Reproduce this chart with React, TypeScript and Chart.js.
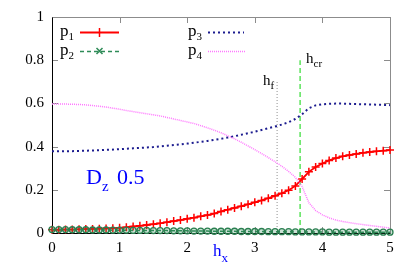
import React, { useEffect, useRef } from "react";
import { Chart, registerables } from "chart.js";

Chart.register(...registerables);

const hx = [
  0, 0.1, 0.2, 0.3, 0.4, 0.5, 0.6, 0.7, 0.8, 0.9,
  1.0, 1.1, 1.2, 1.3, 1.4, 1.5, 1.6, 1.7, 1.8, 1.9,
  2.0, 2.1, 2.2, 2.3, 2.4, 2.5, 2.6, 2.7, 2.8, 2.9,
  3.0, 3.1, 3.2, 3.3, 3.4, 3.5, 3.6, 3.7, 3.8, 3.9,
  4.0, 4.1, 4.2, 4.3, 4.4, 4.5, 4.6, 4.7, 4.8, 4.9, 5.0,
];

const p1 = [
  0.015, 0.015, 0.016, 0.016, 0.017, 0.018, 0.019, 0.020, 0.021, 0.022,
  0.024, 0.027, 0.030, 0.033, 0.037, 0.041, 0.045, 0.050, 0.055, 0.060,
  0.066, 0.071, 0.077, 0.083, 0.090, 0.100, 0.108, 0.116, 0.124, 0.133,
  0.142, 0.151, 0.161, 0.172, 0.184, 0.198, 0.218, 0.250, 0.283, 0.306,
  0.322, 0.336, 0.347, 0.355, 0.361, 0.366, 0.371, 0.375, 0.378, 0.381, 0.384,
];

const p2 = [
  0.016, 0.016, 0.016, 0.015, 0.015, 0.015, 0.014, 0.014, 0.014, 0.013,
  0.013, 0.013, 0.012, 0.012, 0.012, 0.011, 0.011, 0.011, 0.010, 0.010,
  0.010, 0.009, 0.009, 0.009, 0.008, 0.008, 0.008, 0.008, 0.007, 0.007,
  0.007, 0.007, 0.006, 0.006, 0.006, 0.006, 0.005, 0.005, 0.005, 0.005,
  0.005, 0.004, 0.004, 0.004, 0.004, 0.004, 0.004, 0.004, 0.004, 0.004, 0.004,
];

const p3 = [
  0.378, 0.378, 0.379, 0.379, 0.380, 0.381, 0.382, 0.383, 0.385, 0.386,
  0.388, 0.390, 0.392, 0.394, 0.396, 0.398, 0.401, 0.404, 0.407, 0.410,
  0.414, 0.418, 0.422, 0.426, 0.431, 0.436, 0.442, 0.448, 0.455, 0.462,
  0.469, 0.477, 0.485, 0.493, 0.502, 0.513, 0.528, 0.550, 0.578, 0.591,
  0.596, 0.598, 0.599, 0.599, 0.598, 0.597, 0.596, 0.595, 0.594, 0.593, 0.592,
];

const p4 = [
  0.597, 0.597, 0.597, 0.596, 0.595, 0.593, 0.590, 0.587, 0.583, 0.578,
  0.573, 0.567, 0.562, 0.557, 0.552, 0.547, 0.542, 0.535, 0.528, 0.521,
  0.514, 0.507, 0.497, 0.487, 0.476, 0.464, 0.450, 0.436, 0.420, 0.403,
  0.386, 0.368, 0.349, 0.330, 0.309, 0.285, 0.258, 0.215, 0.140, 0.104,
  0.084, 0.070, 0.060, 0.053, 0.048, 0.043, 0.039, 0.035, 0.031, 0.027, 0.023,
];

// vertical markers: [hx position, top value]
const hfLine = [3.33, 0.70];
const hcrLine = [3.67, 0.80];

const xTicks = [0, 1, 2, 3, 4, 5];
const yTicks = [0, 0.2, 0.4, 0.6, 0.8, 1];

const SERIF = "'Liberation Serif', 'DejaVu Serif', serif";

function drawSub(
  ctx: CanvasRenderingContext2D,
  main: string,
  sub: string,
  x: number,
  y: number,
  size: number,
  subSize: number,
  subDy: number,
  color: string
) {
  ctx.save();
  ctx.fillStyle = color;
  ctx.textAlign = "left";
  ctx.textBaseline = "alphabetic";
  ctx.font = `${size}px ${SERIF}`;
  ctx.fillText(main, x, y);
  const w = ctx.measureText(main).width;
  ctx.font = `${subSize}px ${SERIF}`;
  ctx.fillText(sub, x + w, y + subDy);
  ctx.restore();
}

const framePlugin = {
  id: "frame",
  beforeDatasetsDraw(chart: any) {
    const { ctx, chartArea: a, scales } = chart;
    ctx.save();
    ctx.lineWidth = 1;
    ctx.strokeStyle = "#8c8c8c";
    const tl = 6;
    xTicks.forEach((v) => {
      const px = Math.round(scales.x.getPixelForValue(v)) + 0.5;
      ctx.beginPath();
      ctx.moveTo(px, a.bottom);
      ctx.lineTo(px, a.bottom - tl);
      ctx.moveTo(px, a.top);
      ctx.lineTo(px, a.top + tl);
      ctx.stroke();
    });
    yTicks.forEach((v) => {
      const py = Math.round(scales.y.getPixelForValue(v)) + 0.5;
      ctx.beginPath();
      ctx.moveTo(a.left, py);
      ctx.lineTo(a.left + tl, py);
      ctx.moveTo(a.right, py);
      ctx.lineTo(a.right - tl, py);
      ctx.stroke();
    });
    ctx.strokeStyle = "#8c8c8c";
    ctx.beginPath();
    ctx.moveTo(Math.round(a.left) + 0.5, Math.round(a.top) + 0.5);
    ctx.lineTo(Math.round(a.right) + 0.5, Math.round(a.top) + 0.5);
    ctx.lineTo(Math.round(a.right) + 0.5, Math.round(a.bottom) + 0.5);
    ctx.stroke();
    ctx.strokeStyle = "#000000";
    ctx.beginPath();
    ctx.moveTo(Math.round(a.left) + 0.5, Math.round(a.top) + 0.5);
    ctx.lineTo(Math.round(a.left) + 0.5, Math.round(a.bottom) + 0.5);
    ctx.lineTo(Math.round(a.right) + 0.5, Math.round(a.bottom) + 0.5);
    ctx.stroke();
    ctx.restore();
  },
  afterDraw(chart: any) {
    const { ctx } = chart;
    const legendRows = [
      { label: "p", sub: "1", tx: 60, ty: 36, lx0: 80, lx1: 119, ly: 32, ds: 0 },
      { label: "p", sub: "2", tx: 60, ty: 55, lx0: 80, lx1: 119, ly: 51, ds: 1 },
      { label: "p", sub: "3", tx: 188, ty: 36, lx0: 208, lx1: 244, ly: 32, ds: 2 },
      { label: "p", sub: "4", tx: 188, ty: 55, lx0: 208, lx1: 246, ly: 51, ds: 3 },
    ];
    legendRows.forEach((r) => {
      drawSub(ctx, r.label, r.sub, r.tx, r.ty, 17, 11, 4, "#000");
      const d = chart.data.datasets[r.ds];
      ctx.save();
      ctx.strokeStyle = d.borderColor;
      ctx.lineWidth = d.borderWidth;
      ctx.setLineDash(d.borderDash || []);
      ctx.beginPath();
      ctx.moveTo(r.lx0, r.ly + 0.5);
      ctx.lineTo(r.lx1, r.ly + 0.5);
      ctx.stroke();
      ctx.setLineDash([]);
      const mx = (r.lx0 + r.lx1) / 2;
      if (r.ds === 0) {
        ctx.lineWidth = 1.5;
        ctx.beginPath();
        ctx.moveTo(mx, r.ly - 4);
        ctx.lineTo(mx, r.ly + 5);
        ctx.stroke();
      } else if (r.ds === 1) {
        ctx.lineWidth = 1.5;
        ctx.beginPath();
        ctx.moveTo(mx - 3, r.ly - 3);
        ctx.lineTo(mx + 3, r.ly + 3);
        ctx.moveTo(mx + 3, r.ly - 3);
        ctx.lineTo(mx - 3, r.ly + 3);
        ctx.stroke();
      }
      ctx.restore();
    });
    drawSub(ctx, "h", "f", 263, 85, 15, 11, 4, "#000");
    drawSub(ctx, "h", "cr", 306, 63, 15, 11, 4, "#000");
    drawSub(ctx, "D", "z", 86, 184, 22, 15, 7, "#0000ff");
    ctx.save();
    ctx.fillStyle = "#0000ff";
    ctx.font = `22px ${SERIF}`;
    ctx.fillText("0.5", 117, 184);
    ctx.restore();
    drawSub(ctx, "h", "x", 213, 256, 17, 13, 6, "#0000ff");
  },
};

export default function App() {
  const ref = useRef<HTMLCanvasElement | null>(null);

  useEffect(() => {
    if (!ref.current) return;
    const mk = (ys: number[]) => hx.map((x, i) => ({ x, y: ys[i] }));
    const chart = new Chart(ref.current, {
      type: "line",
      data: {
        datasets: [
          {
            label: "p1",
            data: mk(p1),
            borderColor: "#ff0000",
            borderWidth: 1.8,
            pointStyle: "cross",
            pointRadius: 4,
            pointBorderWidth: 1.5,
            pointBorderColor: "#ff0000",
            pointBackgroundColor: "#ff0000",
            clip: false,
            order: 4,
          } as any,
          {
            label: "p2",
            data: mk(p2),
            borderColor: "#2e8b57",
            borderWidth: 1.5,
            borderDash: [4, 3],
            pointStyle: "circle",
            pointRadius: 3,
            pointBorderWidth: 1.3,
            pointBorderColor: "#2a7f50",
            pointBackgroundColor: "rgba(46,139,87,0.25)",
            clip: false,
            order: 3,
          } as any,
          {
            label: "p3",
            data: mk(p3),
            borderColor: "#1c1c8f",
            borderWidth: 2,
            borderDash: [2, 3],
            pointRadius: 0,
            order: 2,
          } as any,
          {
            label: "p4",
            data: mk(p4),
            borderColor: "#ff77ff",
            borderWidth: 1.5,
            borderDash: [1, 1],
            pointRadius: 0,
            order: 1,
          } as any,
          {
            label: "hf",
            data: [
              { x: hfLine[0], y: 0 },
              { x: hfLine[0], y: hfLine[1] },
            ],
            borderColor: "#909090",
            borderWidth: 1,
            borderDash: [1, 2],
            pointRadius: 0,
            order: 5,
          } as any,
          {
            label: "hcr",
            data: [
              { x: hcrLine[0], y: 0 },
              { x: hcrLine[0], y: hcrLine[1] },
            ],
            borderColor: "#33dd33",
            borderWidth: 1.2,
            borderDash: [5, 3],
            pointRadius: 0,
            order: 5,
          } as any,
        ],
      },
      options: {
        responsive: false,
        animation: false,
        devicePixelRatio: 1,
        layout: { padding: { left: 0, right: 25, top: 16, bottom: 0 } },
        plugins: { legend: { display: false }, tooltip: { enabled: false } },
        elements: { line: { tension: 0 } },
        scales: {
          x: {
            type: "linear",
            min: 0,
            max: 5,
            afterFit: (s: any) => {
              s.height = 44;
            },
            afterBuildTicks: (s: any) => {
              s.ticks = xTicks.map((v) => ({ value: v }));
            },
            ticks: {
              color: "#000",
              font: { family: SERIF, size: 15 },
              padding: 6,
              maxRotation: 0,
              callback: (v: any) => String(v),
            },
            grid: { display: false, drawTicks: false },
            border: { display: false },
          },
          y: {
            min: 0,
            max: 1,
            afterFit: (s: any) => {
              s.width = 52;
            },
            afterBuildTicks: (s: any) => {
              s.ticks = yTicks.map((v) => ({ value: v }));
            },
            ticks: {
              color: "#000",
              font: { family: SERIF, size: 15 },
              padding: 8,
              callback: (v: any) => String(Number(Number(v).toFixed(1))),
            },
            grid: { display: false, drawTicks: false },
            border: { display: false },
          },
        },
      } as any,
      plugins: [framePlugin],
    });
    return () => chart.destroy();
  }, []);

  return (
    <div style={{ position: "absolute", left: 0, top: 0, width: 415, height: 277, background: "#fff" }}>
      <canvas ref={ref} width={415} height={277} style={{ width: 415, height: 277 }} />
    </div>
  );
}
